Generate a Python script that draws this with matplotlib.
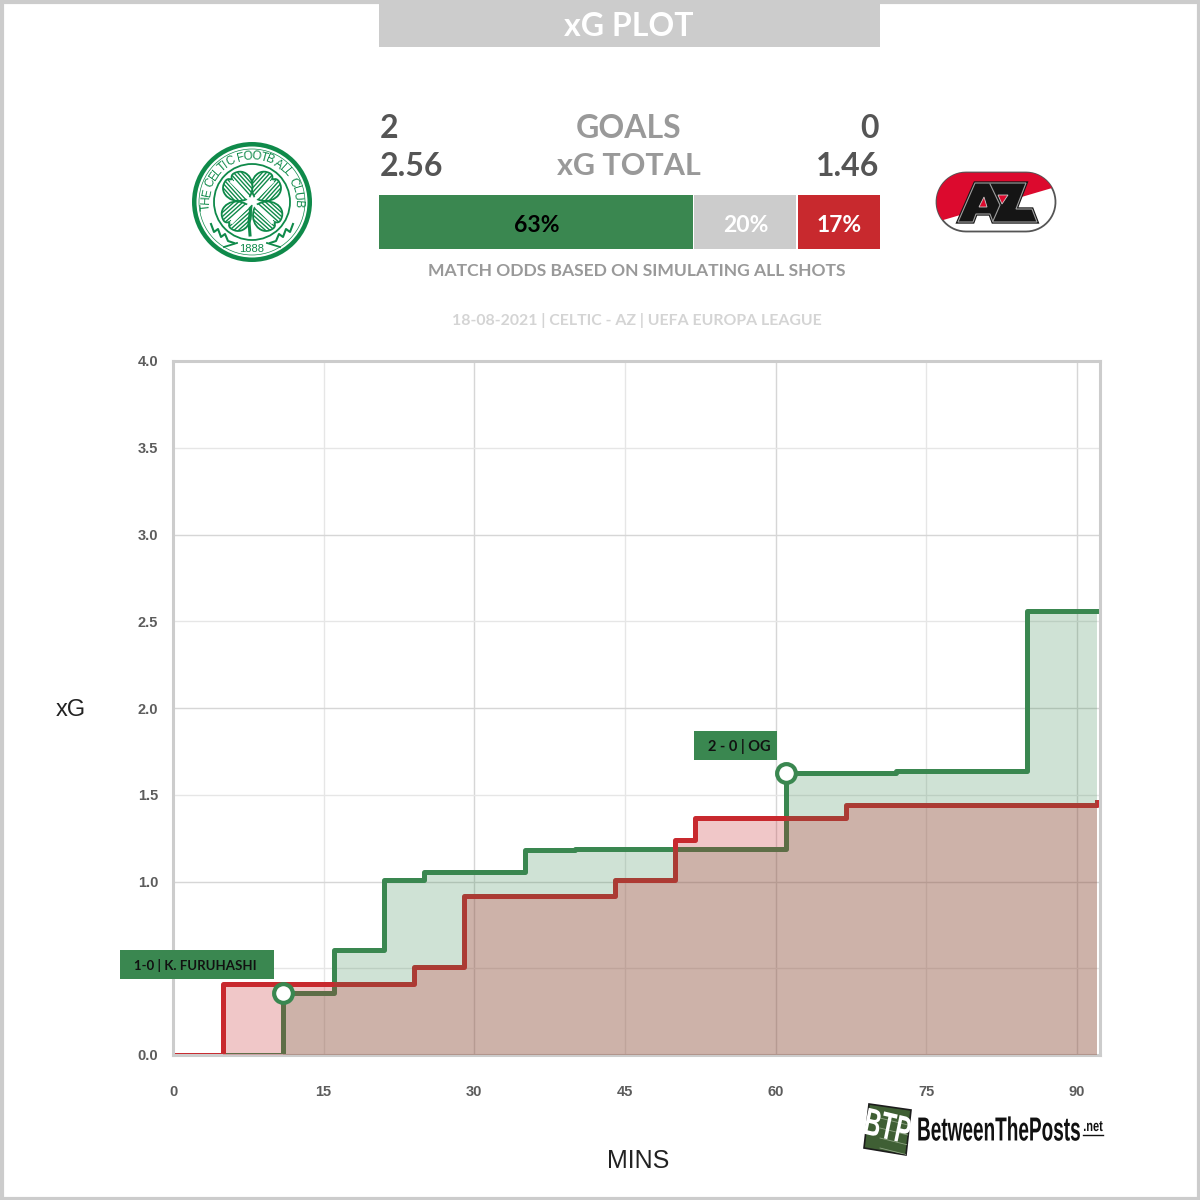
import numpy as np
import matplotlib
matplotlib.use('Agg')
import matplotlib.pyplot as plt
from matplotlib.patches import Rectangle, Circle, Polygon, PathPatch
from matplotlib.path import Path
from matplotlib.patheffects import AbstractPathEffect
from matplotlib.transforms import Affine2D

# xG step data
green_min = [0, 11, 16, 21, 25, 35, 40, 61, 72, 85, 92]
green_xg = [0, 0.36, 0.605, 1.01, 1.055, 1.18, 1.19, 1.625, 1.635, 2.56, 2.56]
red_min = [0, 5, 24, 29, 44, 50, 52, 67, 92]
red_xg = [0, 0.41, 0.51, 0.915, 1.01, 1.24, 1.365, 1.44, 1.46]

goal_min = [11, 61]
goal_xg = [0.36, 1.625]
goal_labels = ['1-0 | K. FURUHASHI', '2 - 0 | OG']

x_ticks = [0, 15, 30, 45, 60, 75, 90]
y_ticks = [0.0, 0.5, 1.0, 1.5, 2.0, 2.5, 3.0, 3.5, 4.0]
# the 0.5 label sits behind the goal tag in the original
y_tick_labels = ['0.0', '', '1.0', '1.5', '2.0', '2.5', '3.0', '3.5', '4.0']

# bar widths are a little off the rounded labels
odds = [62.9, 20.75, 16.35]
odds_labels = ['63%', '20%', '17%']

GREEN = '#3a8750'
RED = '#c8292e'
GREY = '#cccccc'
HEAD = 'Lato'
W = 1200


class Squeeze(AbstractPathEffect):
    # narrows drawn text around a pixel x, there is no condensed font to hand
    def __init__(self, x0, sx):
        super().__init__()
        self.x0 = x0
        self.sx = sx

    def draw_path(self, renderer, gc, tpath, affine, rgbFace=None):
        squeeze = Affine2D().translate(-self.x0, 0).scale(self.sx, 1).translate(self.x0, 0)
        renderer.draw_path(gc, tpath, affine + squeeze, rgbFace)


def px_axes(fig):
    # overlay in reference pixel coordinates
    ax = fig.add_axes([0, 0, 1, 1], zorder=5)
    ax.set_xlim(0, W)
    ax.set_ylim(W, 0)
    ax.axis('off')
    ax.patch.set_alpha(0)
    return ax


def arc_text(ax, text, cx, cy, r, start, end, size, color):
    weights = [0.45 if ch in ' I' else 0.7 if ch in 'LTEF' else 1.0 for ch in text]
    edges = np.cumsum(weights) - np.array(weights) / 2
    angles = start + (end - start) * edges / sum(weights)
    for ch, a in zip(text, angles):
        x = cx + r * np.cos(np.radians(a))
        y = cy - r * np.sin(np.radians(a))
        ax.text(x, y, ch, rotation=a - 90, ha='center', va='center', fontsize=size,
                color=color, family='Liberation Sans', rotation_mode='anchor')


def leaf(ax, cx, cy, angle, color):
    # heart shaped shamrock leaf, local u runs out from the centre
    local = [(5, 0), (9, -17), (29, -20), (33, -7), (35, -2), (31, 0), (28, 0),
             (31, 0), (35, 2), (33, 7), (29, 20), (9, 17), (5, 0)]
    a = np.radians(angle)
    pts = [(cx + u * np.cos(a) - v * np.sin(a), cy - u * np.sin(a) - v * np.cos(a)) for u, v in local]
    codes = [Path.MOVETO] + [Path.CURVE4] * 12
    shape = PathPatch(Path(pts, codes), fc='white', ec=color, lw=1.3)
    ax.add_patch(shape)
    for off in [-15, -12, -9, -6, -3, 3, 6, 9, 12, 15]:
        u = np.array([4, 36])
        xs = cx + u * np.cos(a) - off * np.sin(a)
        ys = cy - u * np.sin(a) - off * np.cos(a)
        ln, = ax.plot(xs, ys, color=color, lw=1.0)
        ln.set_clip_path(shape)


def celtic_crest(ax):
    cx, cy = 252, 202
    c = '#0f8a4a'
    ax.add_patch(Circle((cx, cy), 60, fc=c, ec='none'))
    ax.add_patch(Circle((cx, cy), 55.5, fc='white', ec='none'))
    ax.add_patch(Circle((cx, cy), 53, fc='none', ec=c, lw=0.5))
    ax.add_patch(Circle((cx, cy), 38, fc='white', ec=c, lw=1.3))
    arc_text(ax, 'THE CELTIC FOOTBALL CLUB', cx, cy, 45.5, 190, -8, 8.6, c)
    for a in [48, 132, 222, 318]:
        leaf(ax, cx, cy, a, c)
    # stem and crossing veins
    ax.plot([cx - 1, cx - 3, cx - 2], [cy + 4, cy + 20, cy + 33], color=c, lw=2.2)
    ax.plot([cx - 20, cx + 20], [cy - 20, cy + 20], color='white', lw=2.4)
    ax.plot([cx + 20, cx - 20], [cy - 20, cy + 20], color='white', lw=2.4)
    ax.text(cx, cy + 47, '1888', ha='center', va='center', fontsize=8, color=c,
            family='Liberation Sans')
    for side in (-1, 1):
        xs = cx + side * np.array([41, 38, 34, 31, 27, 24, 18])
        ys = cy + np.array([22, 30, 27, 35, 32, 39, 41])
        ax.plot(xs, ys, color=c, lw=1.5)
        ax.plot(cx + side * np.array([28, 15]), cy + np.array([45, 41]), color=c, lw=1.3)


def az_logo(ax):
    x0, x1, y0, y1 = 936.5, 1055.5, 172.5, 231.5
    r = (y1 - y0) / 2
    t = np.radians(np.linspace(90, 270, 30))
    left = np.c_[x0 + r + r * np.cos(t), y0 + r - r * np.sin(t)]
    right = np.c_[x1 - r - r * np.cos(t), y0 + r + r * np.sin(t)]
    pill = Polygon(np.r_[left, right], closed=True, fc='white', ec='#555555', lw=1.3, zorder=2)
    ax.add_patch(pill)
    red = Polygon([(x0, y0), (x1, y0), (x1, 187), (x0, 222)], fc='#dc0a2e', ec='none', zorder=2)
    ax.add_patch(red)
    red.set_clip_path(pill)
    letters = [(958, 222), (975, 183), (1026, 183), (1016, 209), (1032, 209), (1037, 222),
               (993, 222), (990, 214), (976, 214), (973, 222)]
    ax.add_patch(Polygon(letters, fc='#151515', ec='#151515', lw=2.4, zorder=3))
    ax.add_patch(Polygon(letters, fc='none', ec='#a0a0a0', lw=0.8, zorder=3))
    ax.add_patch(Polygon([(979, 207), (984, 197), (987, 207)], fc='#dc0a2e', ec='#cccccc', lw=0.6, zorder=4))
    ax.add_patch(Polygon([(998, 195), (1008, 195), (1002, 204)], fc='#dc0a2e', ec='#cccccc', lw=0.6, zorder=4))
    ax.plot([990, 1000, 993], [184, 205, 221], color='#a0a0a0', lw=0.8, zorder=4)


def btp_logo(ax, fig):
    card = Polygon([(869, 1104), (911, 1110), (906, 1155), (864, 1148)], fc='#3f5f34', ec='#1c1c1c', lw=1.2)
    ax.add_patch(card)
    for yy in [1118, 1128, 1138, 1148]:
        ln, = ax.plot([880, 912], [yy, yy + 8], color='#8fa584', lw=0.6)
        ln.set_clip_path(card)
    ax.text(887, 1129, 'BTP', rotation=-8, ha='center', va='center', fontsize=28,
            color='white', style='italic', family='Liberation Sans', weight='bold',
            path_effects=[Squeeze(887, 0.6)])
    ax.text(999, 1132, 'BetweenThePosts', ha='center', va='center', fontsize=24,
            color='#111111', family='Liberation Sans', weight='bold',
            path_effects=[Squeeze(999, 0.57)])
    ax.text(1093, 1127, '.net', ha='center', va='center', fontsize=11, color='#111111',
            family='Liberation Sans', weight='bold', path_effects=[Squeeze(1093, 0.72)])
    ax.plot([1083, 1103], [1134.5, 1134.5], color='#111111', lw=1)


fig = plt.figure(figsize=(12, 12), dpi=100, facecolor='white')

# chart
ax = fig.add_axes([173 / W, 1 - 1055 / W, (1100 - 173) / W, (1055 - 361) / W])
ax.set_xlim(0, 92.3)
ax.set_ylim(0, 4)
ax.set_xticks(x_ticks)
ax.set_yticks(y_ticks)
ax.set_yticklabels(y_tick_labels)
ax.tick_params(length=0, labelsize=10.5, labelcolor='#5c5c5c')
ax.tick_params(axis='y', pad=10.7)
ax.tick_params(axis='x', pad=21.5)
for lab in ax.get_xticklabels() + ax.get_yticklabels():
    lab.set_family('Liberation Sans')
    lab.set_weight('bold')
for v in x_ticks[1:]:
    ax.axvline(v, color='#d6d6d6' if v % 30 == 0 else '#e6e6e6', lw=1, zorder=1)
for v in y_ticks[1:-1]:
    ax.axhline(v, color='#d6d6d6' if v % 1 == 0 else '#e6e6e6', lw=1, zorder=1)
for s in ax.spines.values():
    s.set_color(GREY)
    s.set_linewidth(2.2)

ax.step(green_min, green_xg, where='post', color=GREEN, lw=3.6, zorder=2, solid_joinstyle='round')
ax.step(red_min, red_xg, where='post', color=RED, lw=3.6, zorder=2, solid_joinstyle='round')
ax.fill_between(green_min, green_xg, step='post', color=GREEN, alpha=0.24, lw=0, zorder=3)
ax.fill_between(red_min, red_xg, step='post', color=RED, alpha=0.26, lw=0, zorder=3)
ax.plot(goal_min, goal_xg, 'o', ms=13.5, mfc='white', mec=GREEN, mew=3, zorder=4)

# everything outside the plot area
ov = px_axes(fig)
ov.add_patch(Rectangle((1.5, 1.5), 1197, 1197, fc='none', ec=GREY, lw=3))
ov.add_patch(Rectangle((379, 4), 501, 43, fc=GREY, ec='none'))
ov.text(629, 26, 'xG PLOT', ha='center', va='center', fontsize=23, color='white', family=HEAD, weight='bold')

for y, left, mid, right, size in [(129, '2', 'GOALS', '0', 23), (166, '2.56', 'xG TOTAL', '1.46', 22)]:
    ov.text(380, y, left, ha='left', va='center', fontsize=23, color='#555555', family=HEAD, weight='bold')
    ov.text(629, y, mid, ha='center', va='center', fontsize=size, color='#999999', family=HEAD, weight='bold')
    ov.text(879, y, right, ha='right', va='center', fontsize=23, color='#555555', family=HEAD, weight='bold')

# odds bar
bar_x0, bar_x1 = 379, 880
bar_w = (bar_x1 - bar_x0) / sum(odds)
colors = [GREEN, GREY, RED]
text_cols = ['black', 'white', 'white']
start = bar_x0
for v, lab, col, tc in zip(odds, odds_labels, colors, text_cols):
    gap = 0 if col == RED else 1.6
    ov.add_patch(Rectangle((start, 195), v * bar_w - gap, 54, fc=col, ec='none'))
    ov.text(start + v * bar_w / 2, 226, lab, ha='center', va='center', fontsize=16.5,
            color=tc, family=HEAD, weight='bold')
    start += v * bar_w

ov.text(637, 271, 'MATCH ODDS BASED ON SIMULATING ALL SHOTS', ha='center', va='center',
        fontsize=12.6, color='#999999', family=HEAD, weight='bold')
ov.text(637, 321, '18-08-2021 | CELTIC - AZ | UEFA EUROPA LEAGUE', ha='center', va='center',
        fontsize=11.4, color='#d4d4d4', family=HEAD, weight='bold')

ov.text(71, 710, 'xG', ha='center', va='center', fontsize=17, color='#222222', family='Liberation Sans')
ov.text(638, 1161, 'MINS', ha='center', va='center', fontsize=18, color='#222222', family='Liberation Sans')

# goal labels
ov.add_patch(Rectangle((120, 950), 154, 29, fc=GREEN, ec='none'))
ov.text(195, 966, goal_labels[0], ha='center', va='center', fontsize=9.5, color='#111111', family=HEAD, weight='bold')
ov.add_patch(Rectangle((694, 731), 83, 29, fc=GREEN, ec='none'))
ov.text(739, 747, goal_labels[1], ha='center', va='center', fontsize=10.5, color='#111111', family=HEAD, weight='bold')

celtic_crest(ov)
az_logo(ov)
btp_logo(ov, fig)

fig.savefig('out.png', dpi=100, facecolor='white')
